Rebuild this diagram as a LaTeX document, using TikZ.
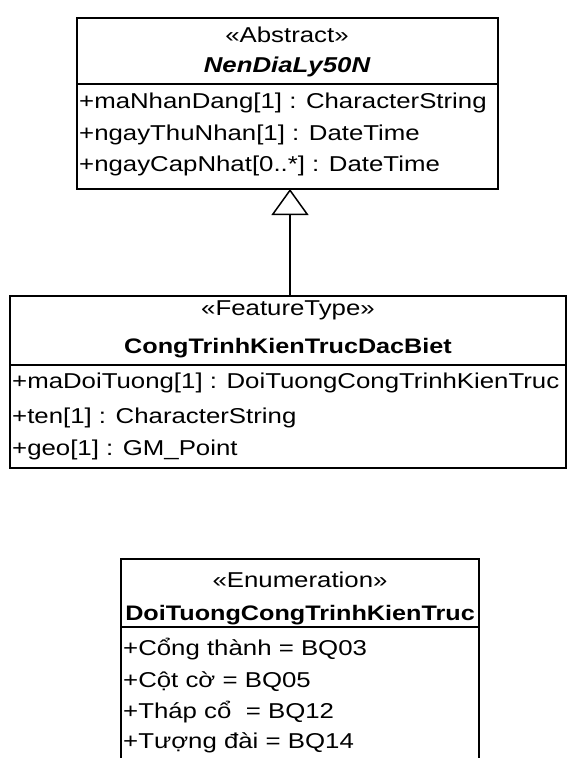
\documentclass[tikz,border=0pt]{standalone}
\usepackage{fontspec}
\setmainfont[FakeStretch=1.2]{Liberation Sans}
\usetikzlibrary{arrows.meta}

\tikzset{
    umlbox/.style={line width=1.5pt},
    txt/.style={inner sep=0pt, font=\fontsize{21.5}{26}\selectfont},
    hdr/.style={txt, anchor=base},
    attr/.style={txt, anchor=base west},
    bold/.style={font=\fontsize{21}{26}\selectfont\bfseries}
}

\begin{document}
\begin{tikzpicture}[x=1pt, y=-1pt]
    \useasboundingbox (0,0) rectangle (572,758);

    % NenDiaLy50N
    \coordinate (A1) at (77, 18);
    \coordinate (A2) at (498, 189);
    \coordinate (AS1) at (77, 84);
    \coordinate (AS2) at (498, 84);
    \coordinate (Abot) at (290, 189);

    % CongTrinhKienTrucDacBiet
    \coordinate (F1) at (10, 296);
    \coordinate (F2) at (566, 468);
    \coordinate (FS1) at (10, 365);
    \coordinate (FS2) at (566, 365);
    \coordinate (Ftop) at (290, 296);

    % DoiTuongCongTrinhKienTruc
    \coordinate (E1) at (121, 559);
    \coordinate (E2) at (479, 559);
    \coordinate (E3) at (479, 758);
    \coordinate (E4) at (121, 758);
    \coordinate (ES1) at (121, 627);
    \coordinate (ES2) at (479, 627);

    \draw[umlbox] (A1) rectangle (A2);
    \draw[umlbox] (AS1) -- (AS2);
    \draw[umlbox] (F1) rectangle (F2);
    \draw[umlbox] (FS1) -- (FS2);
    \draw[umlbox] (E4) -- (E1) -- (E2) -- (E3);
    \draw[umlbox] (ES1) -- (ES2);

    \draw[line width=1.5pt, -{Triangle[open, length=26pt, width=37pt, line width=1.5pt]}] (Ftop) -- (Abot);

    \node[hdr] (abstract) at (287, 42) {«Abstract»};
    \node[hdr, font=\fontsize{21.5}{26}\selectfont\bfseries\itshape] (nendialy) at (287, 72) {NenDiaLy50N};
    \node[attr] (manhandang) at (79, 108) {+maNhanDang[1] : CharacterString};
    \node[attr] (ngaythunhan) at (79, 140) {+ngayThuNhan[1] : DateTime};
    \node[attr] (ngaycapnhat) at (79, 171) {+ngayCapNhat[0..*] : DateTime};

    \node[hdr] (featuretype) at (288, 315) {«FeatureType»};
    \node[hdr, bold] (congtrinh) at (288, 353) {CongTrinhKienTrucDacBiet};
    \node[attr] (madoituong) at (12, 388) {+maDoiTuong[1] : DoiTuongCongTrinhKienTruc};
    \node[attr] (ten) at (12, 423) {+ten[1] : CharacterString};
    \node[attr] (geo) at (12, 455) {+geo[1] : GM\_Point};

    \node[hdr] (enumeration) at (300, 587) {«Enumeration»};
    \node[hdr, bold] (doituong) at (300, 620) {DoiTuongCongTrinhKienTruc};
    \node[attr] (congthanh) at (123, 655) {+Cổng thành = BQ03};
    \node[attr] (cotco) at (123, 687) {+Cột cờ = BQ05};
    \node[attr] (thapco) at (123, 718) {+Tháp cổ\ \ = BQ12};
    \node[attr] (tuongdai) at (123, 748) {+Tượng đài = BQ14};
\end{tikzpicture}
\end{document}
